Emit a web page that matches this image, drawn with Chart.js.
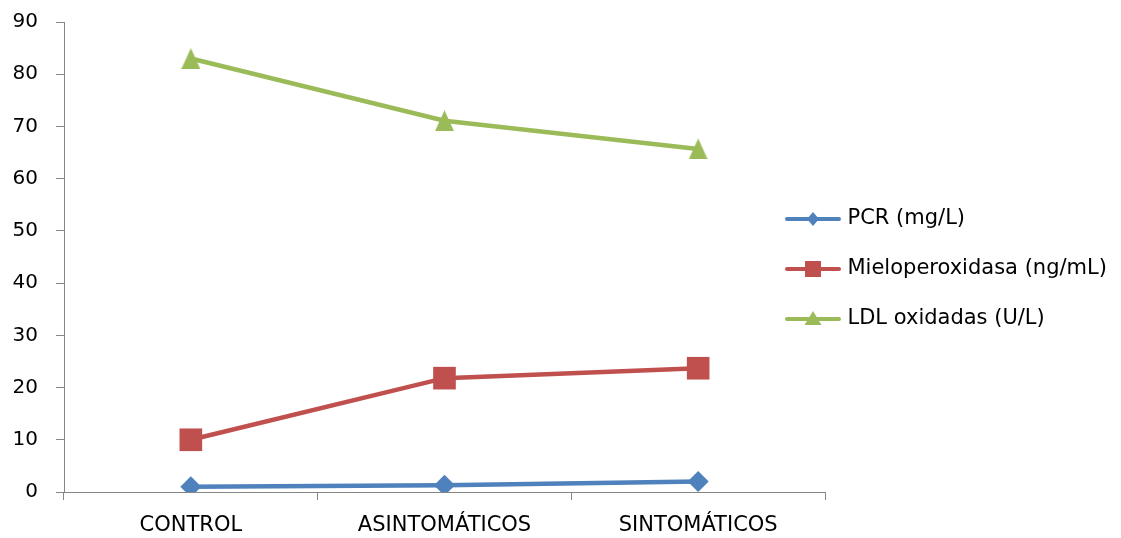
<!DOCTYPE html>
<html>
<head>
<meta charset="utf-8">
<script src="https://cdn.jsdelivr.net/npm/chart.js@4/dist/chart.umd.min.js"></script>
<style>
  html, body { margin: 0; padding: 0; background: #fff; }
  #wrap { width: 1121px; height: 538px; }
</style>
</head>
<body>
<div id="wrap"><canvas id="chart" width="1121" height="538"></canvas></div>
<script>
// data
const categories = ["CONTROL", "ASINTOMÁTICOS", "SINTOMÁTICOS"];
const pcr = [1.0, 1.3, 2.0];          // PCR (mg/L)
const mpo = [10.0, 21.8, 23.7];       // Mieloperoxidasa (ng/mL)
const ldl = [83.0, 71.1, 65.7];       // LDL oxidadas (U/L)
const yMin = 0, yMax = 90, yStep = 10;

const BLUE = "#4F81BD", RED = "#C0504D", GREEN = "#9BBB59";
const AXIS = "#868686";
const FONT = "'DejaVu Sans', sans-serif";

// triangle marker, box-centred like the original
function triMarker(color, w, h) {
  const c = document.createElement("canvas");
  c.width = w; c.height = h;
  const g = c.getContext("2d");
  g.fillStyle = color;
  g.beginPath(); g.moveTo(w / 2, 0); g.lineTo(w, h); g.lineTo(0, h); g.closePath(); g.fill();
  return c;
}

// legend icon: short line with the marker in the middle
function legendIcon(color, shape) {
  const c = document.createElement("canvas");
  c.width = 56; c.height = 22;
  const g = c.getContext("2d");
  g.strokeStyle = color; g.lineWidth = 4; g.lineCap = "round";
  g.beginPath(); g.moveTo(2, 11); g.lineTo(54, 11); g.stroke();
  g.fillStyle = color;
  g.beginPath();
  if (shape === "diamond") {
    g.moveTo(28, 4); g.lineTo(34, 11); g.lineTo(28, 18); g.lineTo(22, 11);
  } else if (shape === "square") {
    g.rect(20, 3, 16, 16);
  } else {
    g.moveTo(28, 3); g.lineTo(36.5, 17); g.lineTo(19.5, 17);
  }
  g.closePath(); g.fill();
  return c;
}
const icons = [legendIcon(BLUE, "diamond"), legendIcon(RED, "square"), legendIcon(GREEN, "triangle")];

// legend sits over the right end of the plot, as in the original
const legendShift = {
  id: "legendShift",
  afterLayout(chart) {
    const l = chart.legend;
    const w = l.width;
    l.left = 760;
    l.right = l.left + w;
    l.top = 0;
    l.bottom = 538;
  }
};

new Chart(document.getElementById("chart"), {
  type: "line",
  data: {
    labels: categories,
    datasets: [
      {
        label: "PCR (mg/L)", data: pcr,
        borderColor: BLUE, backgroundColor: BLUE, borderWidth: 4.5,
        pointStyle: "rectRot", pointRadius: 10.5, pointBackgroundColor: BLUE, pointBorderWidth: 0
      },
      {
        label: "Mieloperoxidasa (ng/mL)", data: mpo,
        borderColor: RED, backgroundColor: RED, borderWidth: 4.5,
        pointStyle: "rect", pointRadius: 16, pointBackgroundColor: RED, pointBorderWidth: 0
      },
      {
        label: "LDL oxidadas (U/L)", data: ldl,
        borderColor: GREEN, backgroundColor: GREEN, borderWidth: 4.5,
        pointStyle: triMarker(GREEN, 19, 21), pointRadius: 11, pointBorderWidth: 0
      }
    ]
  },
  options: {
    responsive: false,
    animation: false,
    layout: { padding: { top: 22, left: 12, right: 296, bottom: 0 } },
    elements: { line: { tension: 0 } },
    plugins: {
      tooltip: { enabled: false },
      legend: {
        position: "chartArea",
        labels: {
          usePointStyle: true,
          pointStyleWidth: 48,
          padding: 29,
          color: "#000",
          font: { family: FONT, size: 21 },
          generateLabels(chart) {
            const items = Chart.defaults.plugins.legend.labels.generateLabels(chart);
            items.forEach((it, i) => { it.pointStyle = icons[i]; });
            return items;
          }
        }
      }
    },
    scales: {
      x: {
        offset: true,
        afterFit(s) { s.height = 46; },
        border: { color: AXIS, width: 1 },
        grid: { offset: true, drawOnChartArea: false, color: AXIS, tickLength: 8 },
        ticks: { color: "#000", font: { family: FONT, size: 21 }, padding: 13, maxRotation: 0 }
      },
      y: {
        min: yMin, max: yMax,
        afterFit(s) { s.width = 52; s.paddingTop = 0; s.paddingBottom = 0; },
        border: { color: AXIS, width: 1 },
        grid: { drawOnChartArea: false, color: AXIS, tickLength: 8 },
        ticks: { stepSize: yStep, color: "#000", font: { family: FONT, size: 20 }, padding: 18 }
      }
    }
  },
  plugins: [legendShift]
});
</script>
</body>
</html>
